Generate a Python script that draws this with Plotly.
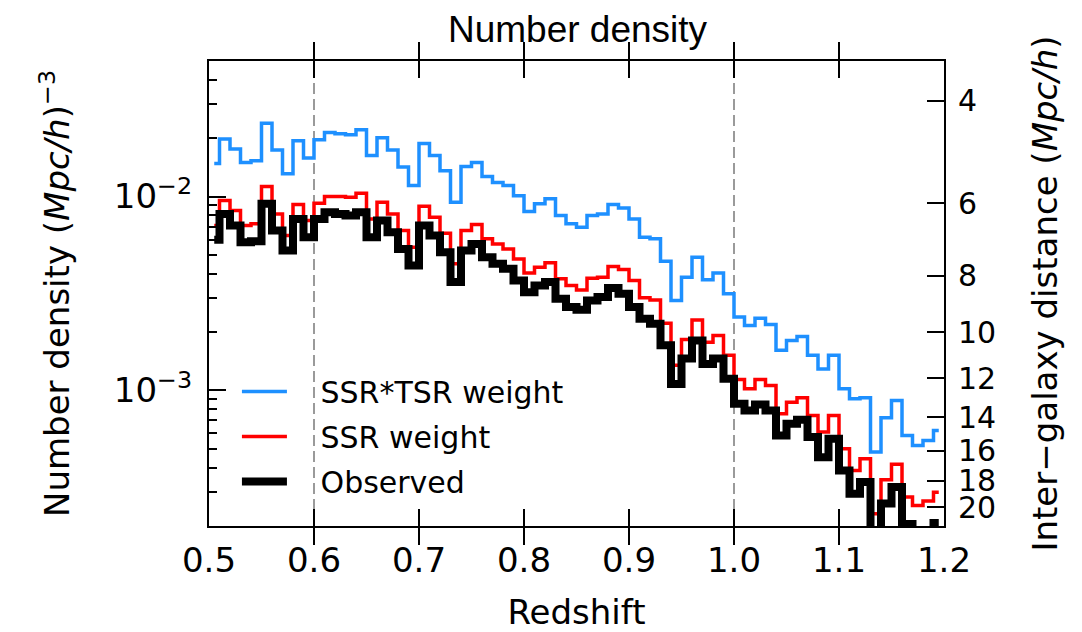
import plotly.graph_objects as go

# Bin centres (steps drawn at mid-points, bins of width 0.01)
redshift = [round(0.505 + 0.01 * i, 3) for i in range(70)]

ssr_tsr_weight = [
    0.0148, 0.0198, 0.0176, 0.0150, 0.0153, 0.0239, 0.0174, 0.0131, 0.0194, 0.0158,
    0.0196, 0.0214, 0.0211, 0.0208, 0.0221, 0.0163, 0.0201, 0.0174, 0.0142, 0.0114,
    0.0188, 0.0163, 0.0136, 0.00934, 0.0143, 0.0150, 0.0127, 0.0118, 0.0114, 0.0101,
    0.00837, 0.00919, 0.00973, 0.00798, 0.00723, 0.00695, 0.00798, 0.00814, 0.00909, 0.00874,
    0.00767, 0.00617, 0.00605, 0.00464, 0.00291, 0.00384, 0.00487, 0.00372, 0.00403, 0.00315,
    0.00239, 0.00216, 0.00236, 0.00219, 0.00161, 0.00181, 0.00190, 0.00152, 0.00129, 0.00152,
    0.00102, 0.000906, 0.000916, 0.000481, 0.000723, 0.000888, 0.000586, 0.000520, 0.000552, 0.000622,
]

ssr_weight = [
    0.00709, 0.00954, 0.00847, 0.00709, 0.00723, 0.01126, 0.00814, 0.00630, 0.00909, 0.00752,
    0.00924, 0.01000, 0.01000, 0.00992, 0.0104, 0.00767, 0.00935, 0.00814, 0.00668, 0.00548,
    0.00891, 0.00782, 0.00647, 0.00450, 0.00668, 0.00717, 0.00605, 0.00570, 0.00537, 0.00477,
    0.00403, 0.00432, 0.00455, 0.00377, 0.00348, 0.00330, 0.00379, 0.00384, 0.00436, 0.00420,
    0.00369, 0.00301, 0.00293, 0.00222, 0.00135, 0.00183, 0.00231, 0.00177, 0.00192, 0.00152,
    0.00114, 0.00102, 0.00114, 0.00106, 0.000759, 0.000870, 0.000917, 0.000743, 0.000610, 0.000743,
    0.000500, 0.000387, 0.000445, 0.000231, 0.000346, 0.000416, 0.000282, 0.000255, 0.000269, 0.000299,
]

observed = [
    0.00598, 0.00814, 0.00709, 0.00581, 0.00588, 0.00917, 0.00668, 0.00527, 0.00767, 0.00617,
    0.00767, 0.00830, 0.00814, 0.00798, 0.00830, 0.00617, 0.00752, 0.00655, 0.00537, 0.00441,
    0.00709, 0.00630, 0.00516, 0.00362, 0.00527, 0.00570, 0.00487, 0.00450, 0.00424, 0.00369,
    0.00321, 0.00348, 0.00362, 0.00297, 0.00269, 0.00261, 0.00291, 0.00303, 0.00338, 0.00315,
    0.00269, 0.00234, 0.00221, 0.00171, 0.00108, 0.00146, 0.00181, 0.00137, 0.00146, 0.00115,
    0.000854, 0.000788, 0.000847, 0.000788, 0.000586, 0.000673, 0.000706, 0.000575, 0.000453, 0.000564,
    0.000387, 0.000293, 0.000337, 0.000160, 0.000261, 0.000318, 0.000205, 0.000180, 0.000180, 0.000207,
]

series_names = ["SSR*TSR weight", "SSR weight", "Observed"]
x_ticks = [0.5, 0.6, 0.7, 0.8, 0.9, 1.0, 1.1, 1.2]
x_ticktext = ["0.5", "0.6", "0.7", "0.8", "0.9", "1.0", "1.1", "1.2"]
y_major = [1e-3, 1e-2]
y_major_text = ["10<sup>−3</sup>", "10<sup>−2</sup>"]
distance_ticks = [4, 6, 8, 10, 12, 14, 16, 18, 20]
dashed_redshifts = [0.6, 1.0]

y_range = [-3.699, -1.301]  # log10 of 2e-4 .. 5e-2
y_minor = [k * 10.0 ** e for e in (-4, -3, -2) for k in range(2, 10)
           if 2e-4 <= k * 10.0 ** e <= 5e-2]
# inter-galaxy distance d = (2/n)^(1/3)  ->  n = 2/d^3
distance_pos = [2.0 / d ** 3 for d in distance_ticks]

FONT = "DejaVu Sans"
PAD = "\u00a0\u00a0\u00a0"  # gap between legend line and label

fig = go.Figure()
fig.add_trace(go.Scatter(x=redshift, y=ssr_tsr_weight, mode="lines", name=PAD + series_names[0],
                         legendgroup="g1",
                         line=dict(color="#1E90FF", width=3.5, shape="hvh")))
fig.add_trace(go.Scatter(x=redshift, y=ssr_weight, mode="lines", name=PAD + series_names[1],
                         legendgroup="g2",
                         line=dict(color="#FF0000", width=3.5, shape="hvh")))
fig.add_trace(go.Scatter(x=redshift, y=observed, mode="lines", name=PAD + series_names[2],
                         legendgroup="g3",
                         line=dict(color="black", width=8, shape="hvh")))
fig.add_trace(go.Scatter(x=[None], y=[None], yaxis="y2", mode="lines",
                         showlegend=False, hoverinfo="skip"))

for z in dashed_redshifts:
    fig.add_shape(type="line", x0=z, x1=z, y0=0, y1=1, xref="x", yref="paper",
                  line=dict(color="#9a9a9a", width=2, dash="11px,5px"), layer="below")

axis_common = dict(showgrid=False, zeroline=False, showline=True, linecolor="black",
                   linewidth=2, ticks="inside", ticklen=17, tickwidth=2, tickcolor="black")

fig.update_layout(
    width=1082, height=632,
    margin=dict(l=209, r=138, t=61, b=106, autoexpand=False),
    paper_bgcolor="white", plot_bgcolor="white",
    font=dict(family=FONT, size=34, color="black"),
    title=dict(text="Number density", x=577.5 / 1082, xanchor="center",
               y=1 - 29 / 632, yanchor="middle",
               font=dict(family="Liberation Sans, Arial", size=37, color="black")),
    xaxis=dict(range=[0.5, 1.2], tickmode="array", tickvals=x_ticks, ticktext=x_ticktext,
               mirror="allticks", tickfont=dict(size=34), ticklabelstandoff=3,
               title=dict(text="Redshift", font=dict(size=34), standoff=27),
               **axis_common),
    yaxis=dict(type="log", range=y_range, tickmode="array", tickvals=y_major,
               ticktext=y_major_text, tickfont=dict(size=34), ticklabelstandoff=8,
               minor=dict(tickmode="array", tickvals=y_minor, ticks="inside", ticklen=8,
                          tickwidth=2, tickcolor="black", showgrid=False),
               title=dict(text="Number density (<i>Mpc/h</i>)<sup>−3</sup>",
                          font=dict(size=34), standoff=34),
               **axis_common),
    yaxis2=dict(type="log", overlaying="y", side="right", range=y_range,
                tickmode="array", tickvals=distance_pos,
                ticktext=[str(d) for d in distance_ticks],
                tickfont=dict(size=30), ticklabelstandoff=6,
                title=dict(text="Inter−galaxy distance (<i>Mpc/h</i>)",
                           font=dict(size=34), standoff=38),
                **axis_common),
    legend=dict(x=0.038, y=0.345, xanchor="left", yanchor="top",
                bgcolor="rgba(0,0,0,0)", borderwidth=0, itemwidth=45,
                font=dict(family=FONT, size=30, color="black"),
                tracegroupgap=3, traceorder="grouped"),
    showlegend=True,
)

fig.write_html("out.html")
